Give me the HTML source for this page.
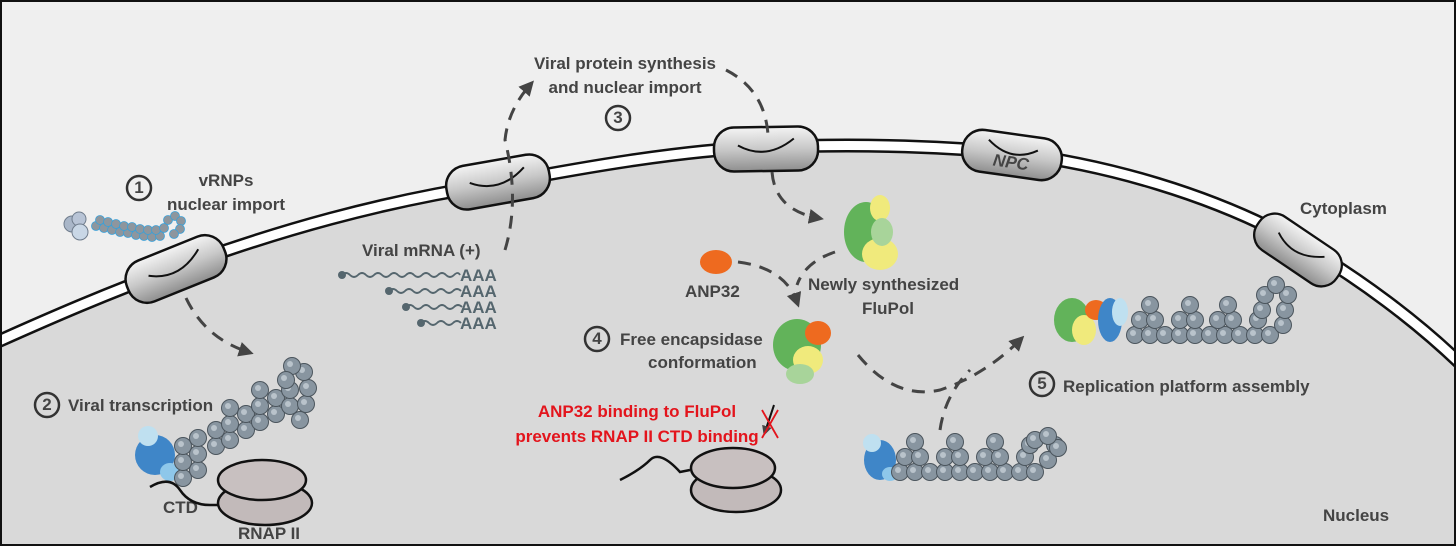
<!DOCTYPE html>
<html><head><meta charset="utf-8"><style>
html,body{margin:0;padding:0;background:#fff}
svg{display:block}
text{font-family:"Liberation Sans",sans-serif;fill:#444;font-size:17px;font-weight:bold}
</style></head><body>
<svg width="1456" height="546" viewBox="0 0 1456 546" xmlns="http://www.w3.org/2000/svg">
<defs>
<linearGradient id="pg" x1="0" y1="0" x2="0" y2="1">
<stop offset="0" stop-color="#f4f4f4"/><stop offset="0.5" stop-color="#c8c8c8"/><stop offset="1" stop-color="#8e8e8e"/>
</linearGradient>
<marker id="ah" viewBox="0 0 10 10" refX="6" refY="5" markerWidth="5" markerHeight="5" orient="auto"><path d="M0,0 L10,5 L0,10 z" fill="#444"/></marker>
<g id="bead"><circle r="8.5" fill="#8895a0" stroke="#4b555d" stroke-width="1"/><circle cx="-2" cy="-2" r="3" fill="#b9c3cb"/></g>
<g id="pore"><rect x="-52" y="-22" width="104" height="44" rx="20" fill="url(#pg)" stroke="#111" stroke-width="2.5"/><path d="M-28,-4 Q0,12 28,-10" fill="none" stroke="#111" stroke-width="2"/></g>
</defs>
<rect x="0" y="0" width="1456" height="546" fill="#efefef"/>
<path d="M-10,351 C50,324 110,298 176,274 C280,236 380,208 490,191 C580,174 680,156 766,153 C850,150 930,151 1012,159 C1110,171 1210,201 1290,244 C1360,284 1420,330 1466,375 L1466,546 L-10,546 z" fill="#d9d9d9"/>
<path id="env" d="M-10,345 C50,318 110,292 176,268 C280,230 380,202 490,185 C580,168 680,150 766,147 C850,144 930,145 1012,153 C1110,165 1210,195 1290,238 C1360,278 1420,324 1466,369" fill="none" stroke="#111" stroke-width="14"/>
<path d="M-10,345 C50,318 110,292 176,268 C280,230 380,202 490,185 C580,168 680,150 766,147 C850,144 930,145 1012,153 C1110,165 1210,195 1290,238 C1360,278 1420,324 1466,369" fill="none" stroke="#fff" stroke-width="9"/>
<rect x="1" y="1" width="1454" height="544" fill="none" stroke="#111" stroke-width="2"/>

<!-- pores -->
<use href="#pore" transform="translate(176,269) rotate(-22)"/>
<use href="#pore" transform="translate(498,182) rotate(-10)"/>
<use href="#pore" transform="translate(766,149) rotate(-1)"/>
<g transform="translate(1012,155) rotate(8)"><rect x="-50" y="-21" width="100" height="42" rx="20" fill="url(#pg)" stroke="#111" stroke-width="2.5"/><path d="M-25,-12 Q0,8 25,-8" fill="none" stroke="#111" stroke-width="2"/><text x="0" y="13" text-anchor="middle" font-style="italic" font-size="15">NPC</text></g>
<use href="#pore" transform="translate(1298,250) rotate(34) scale(0.92)"/>

<!-- dashed arrows -->
<g fill="none" stroke="#444" stroke-width="3" stroke-dasharray="13 9">
<path d="M186,298 Q205,338 248,352" marker-end="url(#ah)"/>
<path d="M505,250 Q520,200 505,140 Q508,110 530,85" marker-end="url(#ah)"/>
<path d="M726,70 Q765,90 768,135"/>
<path d="M772,172 Q775,210 818,218" marker-end="url(#ah)"/>
<path d="M738,262 Q785,268 797,302" marker-end="url(#ah)"/>
<path d="M835,252 Q805,262 797,285"/>
<path d="M858,355 Q895,400 940,390 Q985,375 1020,340" marker-end="url(#ah)"/>
<path d="M940,430 Q945,395 970,370"/>
</g>

<!-- texts -->
<g fill="none" stroke="#333" stroke-width="2.5">
<circle cx="139" cy="188" r="12"/><circle cx="618" cy="118" r="12"/><circle cx="47" cy="405" r="12"/><circle cx="597" cy="339" r="12"/><circle cx="1042" cy="384" r="12"/>
</g>
<g font-size="15" text-anchor="middle">
<text x="139" y="193">1</text><text x="618" y="123">3</text><text x="47" y="410">2</text><text x="597" y="344">4</text><text x="1042" y="389">5</text>
</g>
<text x="226" y="186" text-anchor="middle">vRNPs</text>
<text x="226" y="210" text-anchor="middle">nuclear import</text>
<text x="625" y="69" text-anchor="middle">Viral protein synthesis</text>
<text x="625" y="93" text-anchor="middle">and nuclear import</text>
<text x="362" y="256">Viral mRNA (+)</text>
<g font-size="17">
<text x="460" y="281" style="fill:#55666e">AAA</text><text x="460" y="297" style="fill:#55666e">AAA</text><text x="460" y="313" style="fill:#55666e">AAA</text><text x="460" y="329" style="fill:#55666e">AAA</text>
</g>
<g fill="none" stroke="#55666e" stroke-width="1.8">
<path d="M342,275 q4,-4 8,0 t8,0 t8,0 t8,0 t8,0 t8,0 t8,0 t8,0 t8,0 t8,0 t8,0 t8,0 t8,0 t8,0 t6,0"/>
<path d="M389,291 q4,-4 8,0 t8,0 t8,0 t8,0 t8,0 t8,0 t8,0 t8,0 t8,0"/>
<path d="M406,307 q4,-4 8,0 t8,0 t8,0 t8,0 t8,0 t8,0 t8,0"/>
<path d="M421,323 q4,-4 8,0 t8,0 t8,0 t8,0 t8,0"/>
</g>
<g fill="#55666e"><circle cx="342" cy="275" r="4"/><circle cx="389" cy="291" r="4"/><circle cx="406" cy="307" r="4"/><circle cx="421" cy="323" r="4"/></g>
<text x="685" y="297">ANP32</text>
<text x="808" y="290">Newly synthesized</text>
<text x="888" y="314" text-anchor="middle">FluPol</text>
<text x="620" y="345">Free encapsidase</text>
<text x="648" y="368">conformation</text>
<text x="68" y="411">Viral transcription</text>
<text x="163" y="513">CTD</text>
<text x="238" y="539">RNAP II</text>
<text x="1063" y="392">Replication platform assembly</text>
<text x="1300" y="214">Cytoplasm</text>
<text x="1323" y="521">Nucleus</text>
<g text-anchor="middle">
<text x="637" y="417" style="fill:#e3141c">ANP32 binding to FluPol</text>
<text x="637" y="442" style="fill:#e3141c">prevents RNAP II CTD binding</text>
</g>
<path d="M774,405 L765,432" stroke="#111" stroke-width="2" marker-end="url(#ah)"/>
<path d="M762,410 L778,438 M778,410 L762,438" stroke="#e3141c" stroke-width="1.8"/>

<!-- vRNP top-left -->
<g>
<circle cx="72" cy="224" r="8" fill="#a9b6c8" stroke="#6f7c8c"/><circle cx="79" cy="219" r="7" fill="#b8c4d6" stroke="#6f7c8c"/><circle cx="80" cy="232" r="8" fill="#c9d7e6" stroke="#6f7c8c"/>
<g fill="#8d969e" stroke="#3aa0d8" stroke-width="0.8">
<circle cx="96" cy="226" r="4.5"/><circle cx="104" cy="228" r="4.5"/><circle cx="112" cy="230" r="4.5"/><circle cx="120" cy="232" r="4.5"/><circle cx="128" cy="233" r="4.5"/><circle cx="136" cy="235" r="4.5"/><circle cx="144" cy="236" r="4.5"/><circle cx="152" cy="237" r="4.5"/><circle cx="160" cy="236" r="4.5"/>
<circle cx="100" cy="220" r="4.5"/><circle cx="108" cy="222" r="4.5"/><circle cx="116" cy="224" r="4.5"/><circle cx="124" cy="226" r="4.5"/><circle cx="132" cy="227" r="4.5"/><circle cx="140" cy="229" r="4.5"/><circle cx="148" cy="230" r="4.5"/><circle cx="156" cy="230" r="4.5"/>
<circle cx="164" cy="228" r="4.5"/><circle cx="168" cy="220" r="4.5"/><circle cx="175" cy="216" r="4.5"/><circle cx="181" cy="221" r="4.5"/><circle cx="180" cy="229" r="4.5"/><circle cx="174" cy="234" r="4.5"/>
</g></g>

<!-- transcription complex -->
<g>
<g fill="#3f86c8"><ellipse cx="155" cy="455" rx="20" ry="20"/><ellipse cx="148" cy="436" rx="10" ry="10" fill="#bfe0f0"/><ellipse cx="170" cy="472" rx="10" ry="9" fill="#8ec7ea"/></g>
<use href="#bead" x="183" y="478"/><use href="#bead" x="183" y="462"/><use href="#bead" x="183" y="446"/>
<use href="#bead" x="198" y="470"/><use href="#bead" x="198" y="454"/><use href="#bead" x="198" y="438"/>
<use href="#bead" x="216" y="446"/><use href="#bead" x="216" y="430"/><use href="#bead" x="230" y="440"/><use href="#bead" x="230" y="424"/><use href="#bead" x="230" y="408"/>
<use href="#bead" x="246" y="430"/><use href="#bead" x="246" y="414"/><use href="#bead" x="260" y="422"/><use href="#bead" x="260" y="406"/><use href="#bead" x="260" y="390"/>
<use href="#bead" x="276" y="414"/><use href="#bead" x="276" y="398"/><use href="#bead" x="290" y="406"/><use href="#bead" x="290" y="390"/>
<use href="#bead" x="300" y="420"/><use href="#bead" x="306" y="404"/><use href="#bead" x="308" y="388"/><use href="#bead" x="304" y="372"/><use href="#bead" x="292" y="366"/><use href="#bead" x="286" y="380"/>
</g>
<path d="M150,487 Q170,475 180,490 T210,505 L220,505" fill="none" stroke="#111" stroke-width="2.5"/>
<ellipse cx="265" cy="503" rx="47" ry="22" fill="#c2baba" stroke="#111" stroke-width="2.5"/>
<ellipse cx="262" cy="480" rx="44" ry="20" fill="#c8c0c0" stroke="#111" stroke-width="2.5"/>

<path d="M620,480 Q640,470 650,460 T680,472 L690,470" fill="none" stroke="#111" stroke-width="2.5"/>
<ellipse cx="736" cy="490" rx="45" ry="22" fill="#c2baba" stroke="#111" stroke-width="2.5"/>
<ellipse cx="733" cy="468" rx="42" ry="20" fill="#c8c0c0" stroke="#111" stroke-width="2.5"/>

<!-- ANP32 -->
<ellipse cx="716" cy="262" rx="16" ry="12" fill="#ee6a1f"/>
<!-- newly FluPol -->
<g><ellipse cx="866" cy="232" rx="22" ry="30" fill="#62b35a"/><ellipse cx="880" cy="208" rx="10" ry="13" fill="#f0ea7c"/><ellipse cx="880" cy="254" rx="18" ry="16" fill="#f0ea7c"/><ellipse cx="882" cy="232" rx="11" ry="14" fill="#a8d49a"/></g>
<!-- free encapsidase -->
<g><ellipse cx="797" cy="345" rx="24" ry="26" fill="#62b35a"/><ellipse cx="818" cy="333" rx="13" ry="12" fill="#ee6a1f"/><ellipse cx="808" cy="360" rx="15" ry="14" fill="#f0ea7c"/><ellipse cx="800" cy="374" rx="14" ry="10" fill="#a8d49a"/></g>

<!-- replication platform -->
<g><ellipse cx="1072" cy="320" rx="18" ry="22" fill="#62b35a"/><ellipse cx="1084" cy="330" rx="12" ry="15" fill="#f0ea7c"/><ellipse cx="1096" cy="310" rx="11" ry="10" fill="#ee6a1f"/><ellipse cx="1110" cy="320" rx="12" ry="22" fill="#3f86c8"/><ellipse cx="1120" cy="312" rx="8" ry="14" fill="#bfe0f0"/></g>
<g>
<use href="#bead" x="1135" y="335"/><use href="#bead" x="1150" y="335"/><use href="#bead" x="1165" y="335"/><use href="#bead" x="1180" y="335"/><use href="#bead" x="1195" y="335"/><use href="#bead" x="1210" y="335"/><use href="#bead" x="1225" y="335"/><use href="#bead" x="1240" y="335"/><use href="#bead" x="1255" y="335"/><use href="#bead" x="1270" y="335"/>
<use href="#bead" x="1140" y="320"/><use href="#bead" x="1155" y="320"/><use href="#bead" x="1180" y="320"/><use href="#bead" x="1195" y="320"/><use href="#bead" x="1218" y="320"/><use href="#bead" x="1233" y="320"/><use href="#bead" x="1258" y="320"/><use href="#bead" x="1283" y="325"/>
<use href="#bead" x="1150" y="305"/><use href="#bead" x="1190" y="305"/><use href="#bead" x="1228" y="305"/><use href="#bead" x="1262" y="310"/><use href="#bead" x="1265" y="295"/><use href="#bead" x="1285" y="310"/><use href="#bead" x="1288" y="295"/><use href="#bead" x="1276" y="285"/>
</g>
<!-- bottom vRNP -->
<g><ellipse cx="880" cy="460" rx="16" ry="20" fill="#3f86c8"/><ellipse cx="872" cy="443" rx="9" ry="9" fill="#bfe0f0"/><ellipse cx="890" cy="474" rx="8" ry="7" fill="#8ec7ea"/></g>
<g>
<use href="#bead" x="900" y="472"/><use href="#bead" x="915" y="472"/><use href="#bead" x="930" y="472"/><use href="#bead" x="945" y="472"/><use href="#bead" x="960" y="472"/><use href="#bead" x="975" y="472"/><use href="#bead" x="990" y="472"/><use href="#bead" x="1005" y="472"/><use href="#bead" x="1020" y="472"/><use href="#bead" x="1035" y="472"/>
<use href="#bead" x="905" y="457"/><use href="#bead" x="920" y="457"/><use href="#bead" x="945" y="457"/><use href="#bead" x="960" y="457"/><use href="#bead" x="985" y="457"/><use href="#bead" x="1000" y="457"/><use href="#bead" x="1025" y="457"/><use href="#bead" x="1048" y="460"/>
<use href="#bead" x="915" y="442"/><use href="#bead" x="955" y="442"/><use href="#bead" x="995" y="442"/><use href="#bead" x="1030" y="445"/><use href="#bead" x="1035" y="440"/><use href="#bead" x="1055" y="445"/><use href="#bead" x="1058" y="448"/><use href="#bead" x="1048" y="436"/>
</g>
</svg>
</body></html>
